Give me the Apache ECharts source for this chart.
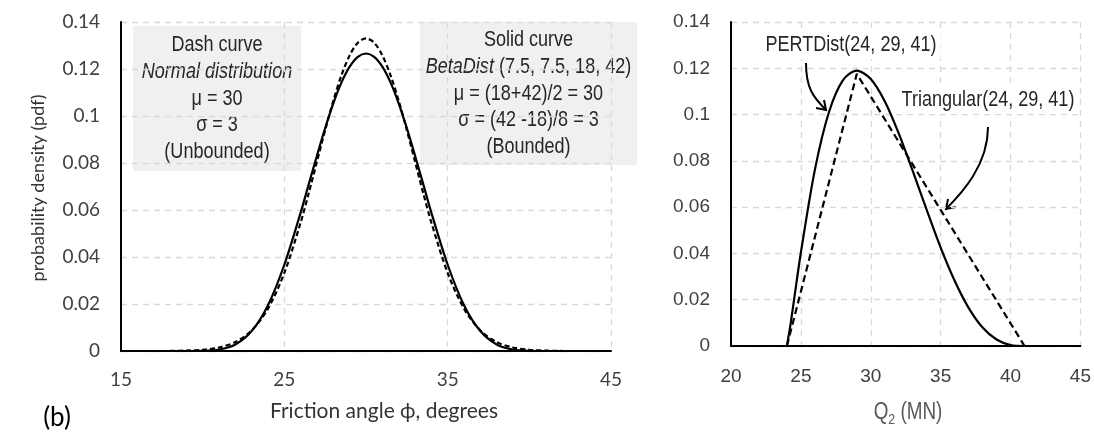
<!DOCTYPE html>
<html>
<head>
<meta charset="utf-8">
<script src="https://cdn.jsdelivr.net/npm/echarts@6.0.0/dist/echarts.min.js"></script>
<style>
    html, body { margin: 0; padding: 0; background: #fff; }
    #main { width: 1094px; height: 437px; }
</style>
</head>
<body>
<div id="main"></div>
<script>
//左图：摩擦角
var angleX = [18, 19, 20, 21, 22, 23, 24, 25, 26, 26.5, 27, 27.5, 28, 28.5, 29, 29.5, 30,
    30.5, 31, 31.5, 32, 32.5, 33, 33.5, 34, 35, 36, 37, 38, 39, 40, 41, 42];
//虚线 正态分布
var normalPdf = [0.00004, 0.00016, 0.00051, 0.00148, 0.0038, 0.00874, 0.018, 0.0332, 0.0547, 0.0673,
    0.0807, 0.094, 0.1065, 0.1174, 0.1258, 0.1312, 0.133, 0.1312, 0.1258, 0.1174, 0.1065, 0.094,
    0.0807, 0.0673, 0.0547, 0.0332, 0.018, 0.00874, 0.0038, 0.00148, 0.00051, 0.00016, 0.00004];
//实线 Beta分布
var betaPdf = [0, 0, 0.00006, 0.00059, 0.00277, 0.00848, 0.0195, 0.0367, 0.0589, 0.0711,
    0.0832, 0.0949, 0.1054, 0.1143, 0.121, 0.1252, 0.1266, 0.1252, 0.121, 0.1143, 0.1054, 0.0949,
    0.0832, 0.0711, 0.0589, 0.0367, 0.0195, 0.00848, 0.00277, 0.00059, 0.00006, 0, 0];
//右图：Q2
var q2X = [24, 24.25, 24.5, 25, 26, 27, 28, 29, 30, 31, 32, 33, 34, 35, 36, 37, 38, 39, 40, 41];
var pertPdf = [0, 0.009, 0.0195, 0.0404, 0.0761, 0.1009, 0.1148, 0.119, 0.1154, 0.1058, 0.0919,
    0.0757, 0.0588, 0.0425, 0.0282, 0.0165, 0.008, 0.0028, 0.0004, 0];
var triX = [24, 29, 41];
var triPdf = [0, 0.1176, 0];

function pairs(xs, ys) {
    var out = [];
    for (var i = 0; i < xs.length; i++) {
        out.push([xs[i], ys[i]]);
    }
    return out;
}

var calibri = 'Lato';
var arial = '"Liberation Sans", Arial, sans-serif';
//用横向压缩模拟 Arial Narrow
var narrowScale = 0.82;
var gridLine = { show: true, lineStyle: { color: '#d9d9d9', type: [6, 5], width: 1.3 } };
var blackAxis = { show: true, lineStyle: { color: '#000', width: 2 } };

function axisX(idx, min, max, step, font, margin) {
    return {
        type: 'value', gridIndex: idx, min: min, max: max, interval: step,
        axisLine: blackAxis, axisTick: { show: false }, splitLine: gridLine,
        axisLabel: { color: '#404040', fontFamily: font, fontSize: 19, margin: margin }
    };
}
function axisY(idx, font) {
    return {
        type: 'value', gridIndex: idx, min: 0, max: 0.14, interval: 0.02,
        axisLine: blackAxis, axisTick: { show: false }, splitLine: gridLine,
        axisLabel: { color: '#404040', fontFamily: font, fontSize: 19, margin: 21 }
    };
}

function textBox(x, y, w, h, lines) {
    return {
        type: 'group', children: [
            { type: 'rect', shape: { x: x, y: y, width: w, height: h }, style: { fill: '#f0f0f0' } },
            {
                type: 'text', x: x + w / 2, y: y + h / 2, scaleX: narrowScale,
                style: {
                    text: lines, align: 'center', verticalAlign: 'middle',
                    fontFamily: arial, fontSize: 22, lineHeight: 26.7, fill: '#262626',
                    rich: { i: { fontStyle: 'italic', fontFamily: arial, fontSize: 22, lineHeight: 26.7 } }
                }
            }
        ]
    };
}

function label(x, y, txt) {
    return {
        type: 'text', x: x, y: y, z: 10, scaleX: narrowScale,
        style: { text: txt, align: 'center', verticalAlign: 'middle', fontFamily: arial, fontSize: 22, fill: '#262626', backgroundColor: '#fff', padding: [3, 5] }
    };
}

function arrow(p0, c1, c2, p1, h1, h2) {
    return {
        type: 'group', children: [
            {
                type: 'bezierCurve',
                shape: { x1: p0[0], y1: p0[1], cpx1: c1[0], cpy1: c1[1], cpx2: c2[0], cpy2: c2[1], x2: p1[0], y2: p1[1] },
                style: { stroke: '#000', lineWidth: 2, fill: null }
            },
            {
                type: 'polyline', shape: { points: [h1, p1, h2] },
                style: { stroke: '#000', lineWidth: 2, fill: null }
            }
        ]
    };
}

var chart = echarts.init(document.getElementById('main'));
var option = {
    animation: false,
    grid: [
        { left: 121, top: 22, width: 490, height: 329 },
        { left: 731, top: 22, width: 352, height: 324 }
    ],
    xAxis: [axisX(0, 15, 45, 10, calibri, 19), axisX(1, 20, 45, 5, arial, 21)],
    yAxis: [axisY(0, calibri), axisY(1, arial)],
    series: [
        {
            type: 'line', xAxisIndex: 0, yAxisIndex: 0, data: pairs(angleX, normalPdf),
            showSymbol: false, smooth: 0.3, z: 3,
            lineStyle: { color: '#000', width: 2.2, type: [5, 3] }
        },
        {
            type: 'line', xAxisIndex: 0, yAxisIndex: 0, data: pairs(angleX, betaPdf),
            showSymbol: false, smooth: 0.3, z: 4,
            lineStyle: { color: '#000', width: 2.2 }
        },
        {
            type: 'line', xAxisIndex: 1, yAxisIndex: 1, data: pairs(q2X, pertPdf),
            showSymbol: false, smooth: 0.3, z: 4,
            lineStyle: { color: '#000', width: 2.2 }
        },
        {
            type: 'line', xAxisIndex: 1, yAxisIndex: 1, data: pairs(triX, triPdf),
            showSymbol: false, z: 3,
            lineStyle: { color: '#000', width: 2.2, type: [7, 4] }
        }
    ],
    graphic: [
        textBox(133, 26, 168, 145, 'Dash curve\n{i|Normal distribution}\nμ = 30\nσ = 3\n(Unbounded)'),
        textBox(420, 22, 217, 143, 'Solid curve\n{i|BetaDist} (7.5, 7.5, 18, 42)\nμ = (18+42)/2 = 30\nσ = (42 -18)/8 = 3\n(Bounded)'),
        {
            type: 'text', x: 38, y: 188, rotation: Math.PI / 2,
            style: { text: 'probability density (pdf)', align: 'center', verticalAlign: 'middle', fontFamily: calibri, fontSize: 18, fill: '#333' }
        },
        {
            type: 'text', x: 384, y: 411,
            style: { text: 'Friction angle ϕ, degrees', align: 'center', verticalAlign: 'middle', fontFamily: calibri, fontSize: 21, fill: '#333' }
        },
        {
            type: 'text', x: 57, y: 418,
            style: { text: '(b)', align: 'center', verticalAlign: 'middle', fontFamily: calibri, fontSize: 26, fill: '#000' }
        },
        {
            type: 'text', x: 908, y: 413, scaleX: narrowScale,
            style: {
                text: 'Q{s|2} (MN)', align: 'center', verticalAlign: 'middle', fontFamily: arial, fontSize: 23, fill: '#595959',
                rich: { s: { fontFamily: arial, fontSize: 15, fill: '#595959', padding: [13, 0, 0, 0] } }
            }
        },
        label(851, 45, 'PERTDist(24, 29, 41)'),
        label(988, 100, 'Triangular(24, 29, 41)'),
        arrow([806, 63], [806, 88], [813, 97], [826, 110], [824, 100], [816, 108]),
        arrow([988, 127], [988, 165], [962, 193], [946, 209], [948, 199], [956, 207])
    ]
};
chart.setOption(option);
</script>
</body>
</html>
